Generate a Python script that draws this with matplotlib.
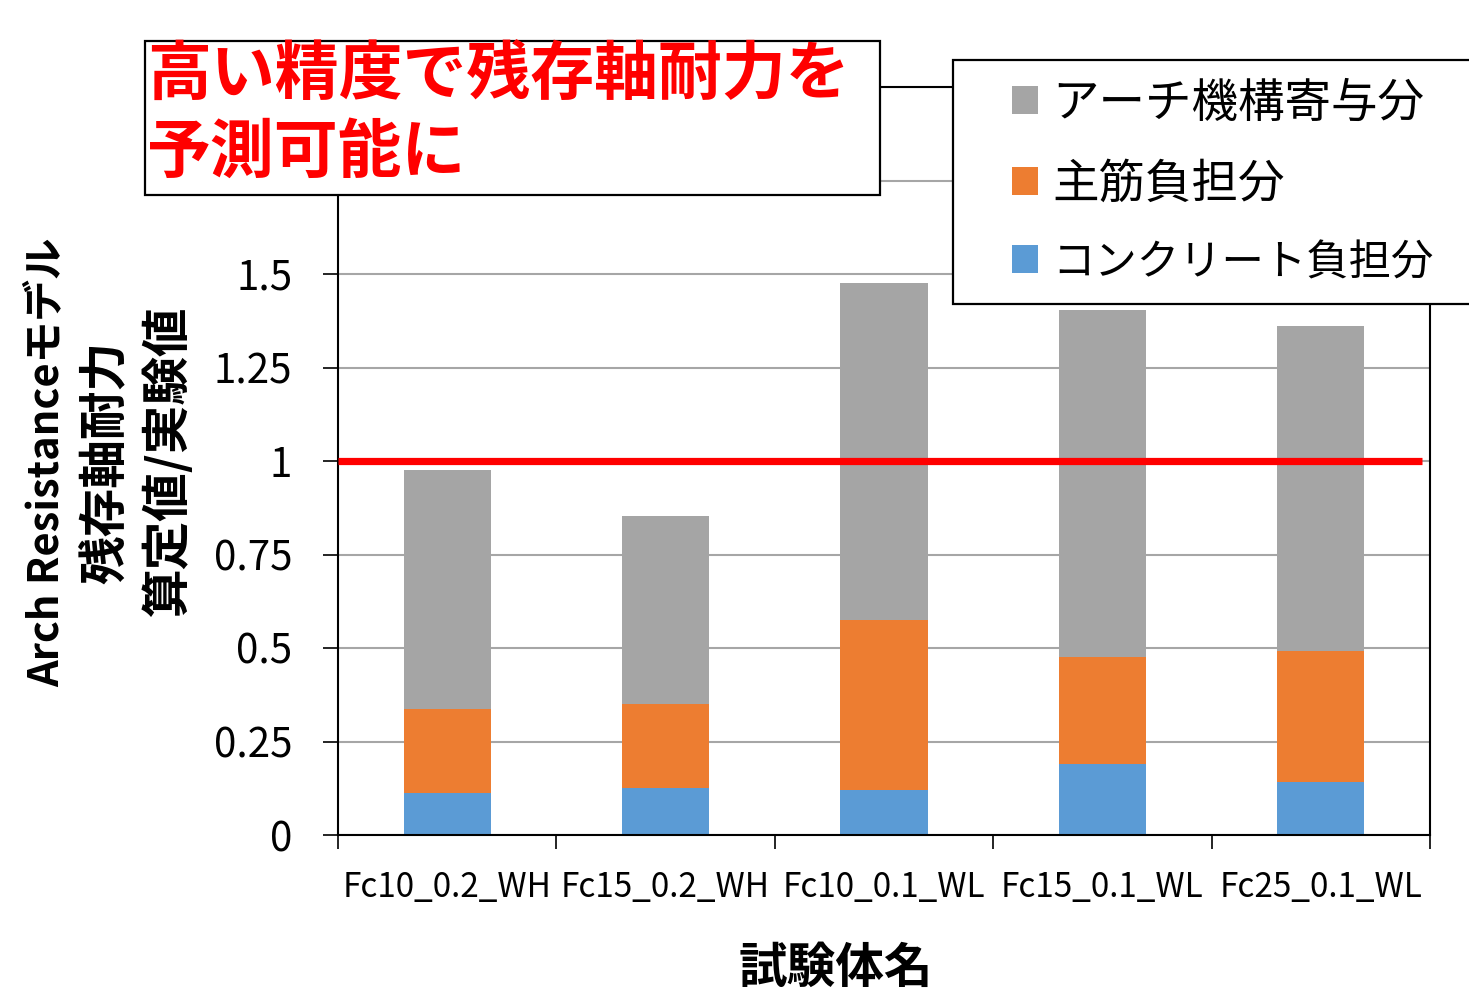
import matplotlib
matplotlib.use("Agg")
import matplotlib.pyplot as plt
from matplotlib.patches import Rectangle, Patch
import numpy as np

plt.rcParams['font.family'] = ['Noto Sans CJK JP', 'DejaVu Sans']

categories = ["Fc10_0.2_WH", "Fc15_0.2_WH", "Fc10_0.1_WL", "Fc15_0.1_WL", "Fc25_0.1_WL"]
concrete = [0.113, 0.126, 0.121, 0.190, 0.143]
rebar = [0.223, 0.223, 0.455, 0.285, 0.348]
arch = [0.639, 0.503, 0.901, 0.930, 0.869]
yticks = [0, 0.25, 0.5, 0.75, 1.0, 1.25, 1.5, 1.75, 2.0]
# labels for 1.75 and 2 are hidden behind the message box in the reference
ytick_labels = ["0", "0.25", "0.5", "0.75", "1", "1.25", "1.5", "", ""]
ref_value = 1.0

legend_labels = ["アーチ機構寄与分", "主筋負担分", "コンクリート負担分"]
c_gray, c_orange, c_blue = "#A5A5A5", "#ED7D31", "#5B9BD5"

W, H = 1469, 990
fig = plt.figure(figsize=(W / 100, H / 100), dpi=100)
ax = fig.add_axes([338 / W, 1 - 835 / H, (1430 - 338) / W, (835 - 87) / H])

x = np.arange(len(categories))
bw = 0.4
ax.bar(x, concrete, bw, color=c_blue, zorder=2)
bottom2 = np.array(concrete)
ax.bar(x, rebar, bw, bottom=bottom2, color=c_orange, zorder=2)
bottom3 = bottom2 + np.array(rebar)
ax.bar(x, arch, bw, bottom=bottom3, color=c_gray, zorder=2)

ax.plot([-0.5, len(categories) - 0.535], [ref_value, ref_value], color="#FF0000", lw=5.2,
        solid_capstyle="butt", zorder=3)

ax.set_xlim(-0.5, len(categories) - 0.5)
ax.set_ylim(0, 2.0)
ax.set_yticks(yticks)
ax.set_yticklabels(ytick_labels, fontsize=29)
ax.yaxis.grid(True, color="#A6A6A6", lw=1.5, zorder=0)
ax.set_axisbelow(True)
ax.set_xticks(x)
ax.set_xticklabels(categories, fontsize=24)
ax.set_xticks(np.arange(-0.5, len(categories), 1.0), minor=True)
ax.tick_params(axis='x', which='major', length=0, pad=25)
ax.tick_params(axis='x', which='minor', length=10, width=1.2, direction='out')
ax.tick_params(axis='y', length=11, width=1.2, direction='out', pad=22)
for s in ax.spines.values():
    s.set_color("black")
    s.set_linewidth(1.5)

# x-axis label
fig.text(836 / W, 1 - 968 / H, "試験体名", fontsize=35, fontweight='bold',
         ha='center', va='center')

# y-axis label (three lines)
fig.text(46 / W, 1 - 462 / H, "Arch Resistanceモデル", rotation=90, fontsize=30,
         fontweight='bold', ha='center', va='center')
fig.text(105 / W, 1 - 462 / H, "残存軸耐力", rotation=90, fontsize=35,
         fontweight='bold', ha='center', va='center')
fig.text(168 / W, 1 - 462 / H, "算定値/実験値", rotation=90, fontsize=35,
         fontweight='bold', ha='center', va='center')

# red message box
fig.add_artist(Rectangle((145 / W, 1 - 195 / H), (880 - 145) / W, (195 - 41) / H,
                         transform=fig.transFigure, facecolor='white', edgecolor='black',
                         lw=1.6, zorder=10))
fig.text(147 / W, 1 - 76 / H, "高い精度で残存軸耐力を", color="#FF0000", fontsize=46,
         fontweight='bold', ha='left', va='center', zorder=11)
fig.text(147 / W, 1 - 153 / H, "予測可能に", color="#FF0000", fontsize=46,
         fontweight='bold', ha='left', va='center', zorder=11)

# legend box
fig.add_artist(Rectangle((953 / W, 1 - 304 / H), (1480 - 953) / W, (304 - 60) / H,
                         transform=fig.transFigure, facecolor='white', edgecolor='black',
                         lw=1.6, zorder=10, clip_on=False))
handles = [Patch(facecolor=c_gray), Patch(facecolor=c_orange), Patch(facecolor=c_blue)]
leg = fig.legend(handles, legend_labels, loc='upper left',
                 bbox_to_anchor=(1012 / W, 1 - 79 / H), frameon=False, fontsize=33.5,
                 handlelength=0.55, handleheight=0.55, handletextpad=0.32,
                 labelspacing=0.7, borderaxespad=0, borderpad=0)
leg.get_texts()[2].set_fontsize(30.5)
leg.set_zorder(12)

fig.savefig("out.png", dpi=100)
